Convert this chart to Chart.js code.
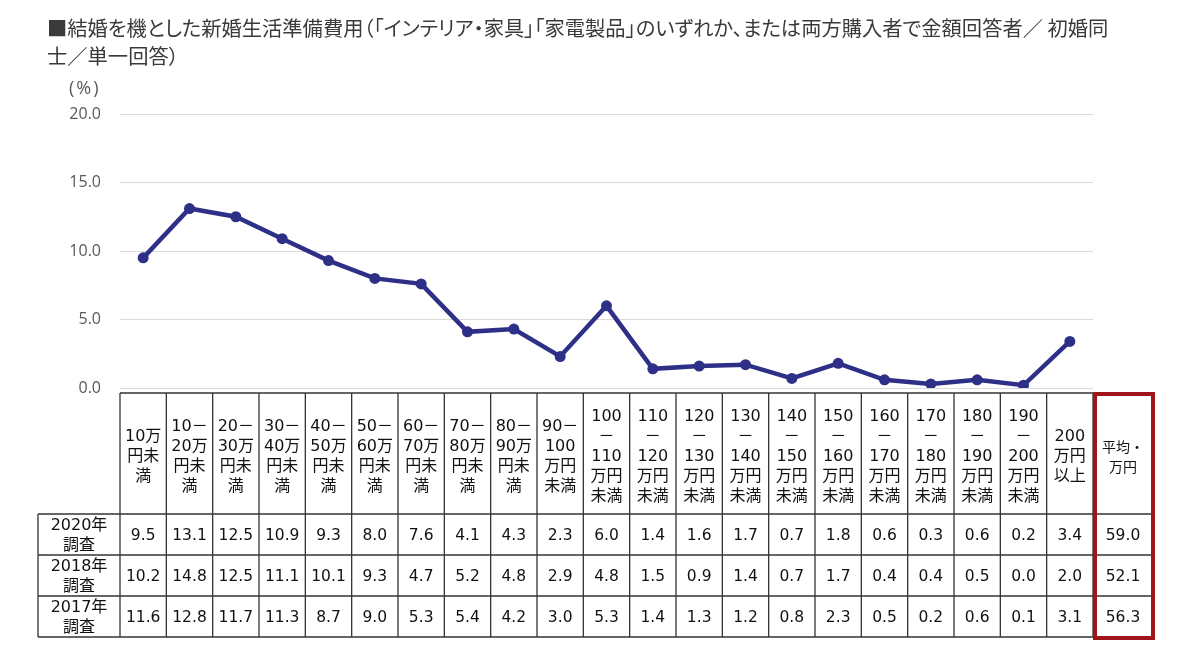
<!DOCTYPE html>
<html>
<head>
<meta charset="utf-8">
<script src="https://cdn.jsdelivr.net/npm/chart.js@4.4.1/dist/chart.umd.min.js"></script>
<style>
  html, body { margin: 0; padding: 0; background: #fff; }
  #wrap { position: relative; width: 1200px; height: 651px; overflow: hidden; }
  #title { position: absolute; left: 47px; top: 13px; font-family: "Noto Sans CJK JP", sans-serif;
           font-size: 20.3px; line-height: 28px; color: #3a3a3a; white-space: nowrap;
           font-feature-settings: "palt"; }
  #unit { position: absolute; left: 69px; top: 75px; font-family: "Open Sans", "Noto Sans", sans-serif;
          font-size: 18px; letter-spacing: 2px; color: #595959; }
  canvas { position: absolute; left: 0; top: 0; }
</style>
</head>
<body>
<div id="wrap">
  <canvas id="c" width="1200" height="651"></canvas>
  <div id="title">■結婚を機とした新婚生活準備費用（「インテリア・家具」「家電製品」のいずれか、または両方購入者で金額回答者／ 初婚同<br>士／単一回答）</div>
  <div id="unit">(%)</div>
</div>
<script>
// ---- data ----
const categories = [
  ['10万','円未','満'],
  ['10－','20万','円未','満'],
  ['20－','30万','円未','満'],
  ['30－','40万','円未','満'],
  ['40－','50万','円未','満'],
  ['50－','60万','円未','満'],
  ['60－','70万','円未','満'],
  ['70－','80万','円未','満'],
  ['80－','90万','円未','満'],
  ['90－','100','万円','未満'],
  ['100','－','110','万円','未満'],
  ['110','－','120','万円','未満'],
  ['120','－','130','万円','未満'],
  ['130','－','140','万円','未満'],
  ['140','－','150','万円','未満'],
  ['150','－','160','万円','未満'],
  ['160','－','170','万円','未満'],
  ['170','－','180','万円','未満'],
  ['180','－','190','万円','未満'],
  ['190','－','200','万円','未満'],
  ['200','万円','以上']
];
const avgHeader = ['平均・','万円'];
const rowLabels = [['2020年','調査'], ['2018年','調査'], ['2017年','調査']];
const values2020 = [9.5,13.1,12.5,10.9,9.3,8.0,7.6,4.1,4.3,2.3,6.0,1.4,1.6,1.7,0.7,1.8,0.6,0.3,0.6,0.2,3.4];
const values2018 = [10.2,14.8,12.5,11.1,10.1,9.3,4.7,5.2,4.8,2.9,4.8,1.5,0.9,1.4,0.7,1.7,0.4,0.4,0.5,0.0,2.0];
const values2017 = [11.6,12.8,11.7,11.3,8.7,9.0,5.3,5.4,4.2,3.0,5.3,1.4,1.3,1.2,0.8,2.3,0.5,0.2,0.6,0.1,3.1];
const averages = [59.0, 52.1, 56.3];
const yTicks = [0, 5, 10, 15, 20];

const tableRows = [values2020, values2018, values2017];

const tablePlugin = {
  id: 'tablePlugin',
  afterDraw(chart) {
    const ctx = chart.ctx;
    const x = chart.scales.x;
    const area = chart.chartArea;
    const n = categories.length;
    const w = (area.right - area.left) / n;
    const left = area.left;
    const right = area.right;
    const avgW = 60;
    const avgRight = right + avgW;
    const headTop = area.bottom + 5;
    const headBot = headTop + 121;
    const rowH = 41;
    const rowsBot = headBot + rowH * tableRows.length;
    const labelLeft = 38;

    ctx.save();
    ctx.strokeStyle = '#333';
    ctx.lineWidth = 1.3;
    const hline = (y, x0, x1) => { ctx.beginPath(); ctx.moveTo(x0, y); ctx.lineTo(x1, y); ctx.stroke(); };
    const vline = (xx, y0, y1) => { ctx.beginPath(); ctx.moveTo(xx, y0); ctx.lineTo(xx, y1); ctx.stroke(); };
    hline(headTop, left, avgRight);
    hline(headBot, labelLeft, avgRight);
    for (let r = 1; r <= tableRows.length; r++) hline(headBot + r * rowH, labelLeft, avgRight);
    vline(labelLeft, headBot, rowsBot);
    for (let i = 0; i <= n; i++) vline(left + i * w, headTop, rowsBot);
    vline(avgRight, headTop, rowsBot);

    ctx.fillStyle = '#111';
    ctx.textAlign = 'center';
    ctx.textBaseline = 'middle';
    ctx.font = '16px "DejaVu Sans", "Noto Sans CJK JP", sans-serif';
    const headMid = (headTop + headBot) / 2 + 3;
    const lh = 20;
    categories.forEach((lines, i) => {
      const cx = x.getPixelForValue(i);
      const y0 = headMid - (lines.length - 1) * lh / 2;
      lines.forEach((t, k) => ctx.fillText(t, cx, y0 + k * lh));
    });
    ctx.font = '14px "Noto Sans CJK JP", sans-serif';
    const acx = right + avgW / 2;
    avgHeader.forEach((t, k) => ctx.fillText(t, acx, headMid - 10 + k * 20));

    ctx.font = '15.5px "DejaVu Sans", sans-serif';
    tableRows.forEach((vals, r) => {
      const cy = headBot + r * rowH + rowH / 2 + 1;
      vals.forEach((v, i) => ctx.fillText(v.toFixed(1), x.getPixelForValue(i), cy));
      ctx.fillText(averages[r].toFixed(1), acx, cy);
    });
    ctx.font = '16px "DejaVu Sans", "Noto Sans CJK JP", sans-serif';
    rowLabels.forEach((lines, r) => {
      const cy = headBot + r * rowH + rowH / 2 + 1;
      const lx = (labelLeft + left) / 2;
      ctx.fillText(lines[0], lx, cy - 10);
      ctx.fillText(lines[1], lx, cy + 10);
    });

    ctx.strokeStyle = '#a01519';
    ctx.lineWidth = 4;
    ctx.strokeRect(right + 2, headTop + 1, avgW - 2, rowsBot - headTop);
    ctx.restore();
  }
};

new Chart(document.getElementById('c'), {
  type: 'line',
  data: {
    labels: categories.map(l => l.join('')),
    datasets: [{
      label: '2020年調査',
      data: values2020,
      borderColor: '#2e3087',
      backgroundColor: '#2e3087',
      borderWidth: 4.5,
      pointRadius: 5.5,
      pointHoverRadius: 5.5,
      pointBorderWidth: 0,
      tension: 0
    }]
  },
  options: {
    responsive: false,
    animation: false,
    devicePixelRatio: 1,
    layout: { padding: { top: 114, bottom: 263, left: 0, right: 107 } },
    plugins: { legend: { display: false }, tooltip: { enabled: false }, title: { display: false } },
    scales: {
      x: { type: 'category', offset: true, display: false },
      y: {
        min: 0, max: 20,
        afterFit(s) { s.width = 120; },
        afterBuildTicks(s) { s.ticks = yTicks.map(v => ({ value: v })); },
        grid: { color: '#d9d9d9', lineWidth: 1, drawTicks: false },
        border: { display: false },
        ticks: {
          padding: 19,
          color: '#595959',
          font: { family: '"Open Sans", "Noto Sans", sans-serif', size: 16 },
          callback: v => Number(v).toFixed(1)
        }
      }
    }
  },
  plugins: [tablePlugin]
});
</script>
</body>
</html>
